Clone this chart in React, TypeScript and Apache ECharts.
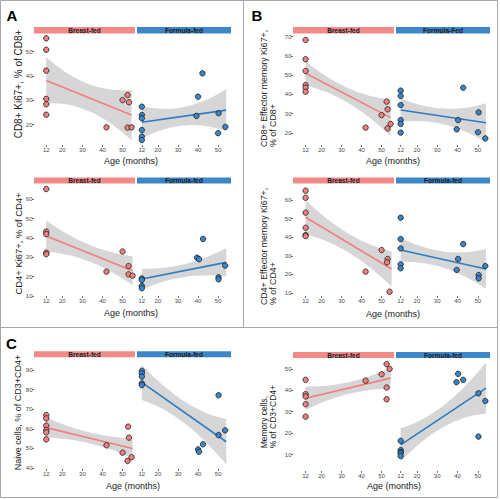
import React, { useEffect, useRef } from 'react';
import * as echarts from 'echarts';

// ---------------- DATA ----------------
const X_TICKS = [12, 20, 30, 40, 50];

// Panel A, top: CD8+ Ki67+
const a1BfAge = [12, 12, 12, 12, 12, 12, 42, 50, 52.5, 53.2, 52.5, 54.5];
const a1BfVal = [55.5, 50.8, 42.2, 30.6, 28.4, 24.1, 18.9, 30.1, 32.2, 29.2, 18.8, 18.9];
const a1FfAge = [12, 12, 12, 12, 12, 12, 40, 39.2, 42.2, 50.2, 50, 53.6];
const a1FfVal = [27.4, 24.0, 22.6, 17.8, 15.1, 13.7, 31.5, 23.6, 41.1, 24.7, 16.5, 19.1];
const a1BfFitX = [12, 54.5];
const a1BfFitY = [38.2, 24.0];
const a1FfFitX = [12, 54];
const a1FfFitY = [21.0, 26.0];
const a1BfBandX = [12, 33, 54.5];
const a1BfBandLo = [28.7, 25.7, 13.6];
const a1BfBandHi = [47.7, 36.7, 34.4];
const a1FfBandX = [12, 33, 54];
const a1FfBandLo = [14.4, 19.7, 17.3];
const a1FfBandHi = [27.6, 27.3, 34.7];
const a1YTicks = [20, 30, 40, 50];

// Panel A, bottom: CD4+ Ki67+
const a2BfAge = [12, 12, 12, 12, 12, 42, 50, 53, 53, 55];
const a2BfVal = [65.3, 43.3, 42, 32.4, 31.6, 22.6, 33, 25.5, 21.2, 20.5];
const a2FfAge = [12, 12, 12, 12, 39.5, 40.5, 42.5, 50.2, 50.2, 53.5];
const a2FfVal = [19.1, 18.3, 15.2, 14.0, 29.8, 29.0, 39.5, 19.7, 18.6, 25.7];
const a2BfFitX = [12, 55];
const a2BfFitY = [41.0, 23.1];
const a2FfFitX = [12, 54];
const a2FfFitY = [18.8, 27.4];
const a2BfBandX = [12, 33.5, 55];
const a2BfBandLo = [33.0, 27.8, 15.6];
const a2BfBandHi = [49.0, 36.4, 30.6];
const a2FfBandX = [12, 33, 54];
const a2FfBandLo = [13.5, 19.8, 20.1];
const a2FfBandHi = [24.1, 26.4, 34.7];
const a2YTicks = [10, 20, 30, 40, 50, 60];

// Panel B, top: CD8+ Effector memory Ki67+
const b1BfAge = [12, 12, 12, 12, 12, 12, 42, 50, 52.5, 53, 53, 54.5];
const b1BfVal = [68.3, 58.3, 52.2, 44.9, 43.5, 41.4, 22.8, 29.3, 36.3, 32.3, 22.4, 24.7];
const b1FfAge = [12, 12, 12, 12, 12, 12, 39.6, 40.3, 42.8, 50.4, 50.1, 53.7];
const b1FfVal = [42.0, 39.2, 34.5, 26.7, 24.7, 20.2, 21.9, 26.7, 43.5, 30.7, 20.4, 17.2];
const b1BfFitX = [12, 54.5];
const b1BfFitY = [51.0, 28.0];
const b1FfFitX = [12, 54];
const b1FfFitY = [31.9, 25.3];
const b1BfBandX = [12, 33.25, 54.5];
const b1BfBandLo = [44.7, 35.7, 18.5];
const b1BfBandHi = [57.3, 43.3, 37.5];
const b1FfBandX = [12, 33, 54];
const b1FfBandLo = [25.7, 24.6, 15.2];
const b1FfBandHi = [38.1, 32.6, 35.4];
const b1YTicks = [20, 30, 40, 50, 60, 70];

// Panel B, bottom: CD4+ Effector memory Ki67+
const b2BfAge = [12, 12, 12, 12, 12, 12, 42, 50, 53, 52.7, 54];
const b2BfVal = [65.0, 61.2, 53.2, 45.1, 41.2, 40.6, 21.5, 33.1, 28.3, 26.5, 10.7];
const b2FfAge = [12, 12, 12, 12, 12, 39.6, 40.3, 42.8, 50.4, 50.4, 53.7];
const b2FfVal = [50.5, 39.0, 34.0, 25.4, 23.3, 22.4, 28.3, 36.3, 19.7, 17.9, 24.5];
const b2BfFitX = [12, 55];
const b2BfFitY = [50.7, 22.9];
const b2FfFitX = [12, 54];
const b2FfFitY = [33.1, 22.9];
const b2BfBandX = [12, 33.5, 55];
const b2BfBandLo = [41.6, 31.8, 13.5];
const b2BfBandHi = [59.8, 41.8, 32.3];
const b2FfBandX = [12, 33, 54];
const b2FfBandLo = [26.8, 23.7, 12.3];
const b2FfBandHi = [39.4, 32.3, 33.5];
const b2YTicks = [10, 20, 30, 40, 50, 60];

// Panel C, left: Naive cells
const c1BfAge = [12, 12, 12, 12, 12, 12, 42, 50, 52.8, 53.2, 52.5, 54.5];
const c1BfVal = [67.0, 65.3, 61.6, 59.4, 58.2, 54.6, 51.6, 47.8, 61.1, 55.5, 43.6, 45.5];
const c1FfAge = [12, 12, 12, 12, 12, 40, 40.5, 42.5, 50.2, 50.2, 53.5];
const c1FfVal = [89.6, 88.3, 86.6, 83.2, 82.3, 49.5, 48.3, 52.1, 77.1, 56.8, 59.2];
const c1BfFitX = [12, 55];
const c1BfFitY = [60.6, 50.0];
const c1FfFitX = [12, 54];
const c1FfFitY = [83.7, 53.4];
const c1BfBandX = [12, 33.5, 55];
const c1BfBandLo = [55.5, 52.5, 45.0];
const c1BfBandHi = [65.7, 58.1, 55.0];
const c1FfBandX = [12, 33, 54];
const c1FfBandLo = [74.7, 63.1, 41.9];
const c1FfBandHi = [92.7, 74.1, 64.9];
const c1YTicks = [40, 50, 60, 70, 80, 90];

// Panel C, right: Memory cells
const c2BfAge = [12, 12, 12, 12, 12, 42, 50, 52.5, 54, 52.5, 52.5];
const c2BfVal = [44.9, 38.2, 37.1, 33.5, 27.7, 44.5, 47.5, 52.2, 50.0, 41.3, 35.8];
const c2FfAge = [12, 12, 12, 12, 12, 39.5, 40.3, 42.8, 50.3, 50.3, 53.7];
const c2FfVal = [16.4, 12.1, 11.2, 10.6, 9.3, 43.8, 47.7, 44.9, 38.6, 18.4, 35.0];
const c2BfFitX = [12, 54.5];
const c2BfFitY = [36.3, 45.7];
const c2FfFitX = [12, 54];
const c2FfFitY = [14.5, 41.0];
const c2BfBandX = [12, 33.25, 54.5];
const c2BfBandLo = [30.8, 38.2, 40.8];
const c2BfBandHi = [41.8, 43.8, 50.6];
const c2FfBandX = [12, 33, 54];
const c2FfBandLo = [6.7, 22.8, 29.0];
const c2FfBandHi = [22.3, 32.8, 53.0];
const c2YTicks = [10, 20, 30, 40, 50];

// ---------------- STYLE / LAYOUT ----------------
const PINK = '#F08080';
const BLUE = '#3A86C8';
const PINK_LINE = '#F27E7E';
const BLUE_LINE = '#2C7CC4';
const BAND = 'rgba(153,153,153,0.4)';
const FONT = '"Liberation Sans", Arial, Helvetica, sans-serif';

type Facet = {
  age: number[]; val: number[];
  fitX: number[]; fitY: number[];
  bandX: number[]; bandLo: number[]; bandHi: number[];
};
const fac = (age: number[], val: number[], fitX: number[], fitY: number[], bandX: number[], bandLo: number[], bandHi: number[]): Facet =>
  ({ age, val, fitX, fitY, bandX, bandLo, bandHi });

const COLS = [
  [{ left: 34, width: 101, min: 5.9, max: 56.2 }, { left: 137, width: 94, min: 9.6, max: 56.4 }],
  [{ left: 293, width: 101, min: 5.7, max: 56.2 }, { left: 396, width: 94, min: 9.7, max: 56.0 }],
];

const panels = [
  { col: 0, top: 34, bottom: 145, yMin: 11.65, yMax: 57.27, yTicks: a1YTicks, stripY: 27, stripH: 6.5,
    strips: ['Breast-fed', 'Formula-fed'],
    bf: fac(a1BfAge, a1BfVal, a1BfFitX, a1BfFitY, a1BfBandX, a1BfBandLo, a1BfBandHi),
    ff: fac(a1FfAge, a1FfVal, a1FfFitX, a1FfFitY, a1FfBandX, a1FfBandLo, a1FfBandHi) },
  { col: 0, top: 184, bottom: 296, yMin: 10.0, yMax: 67.9, yTicks: a2YTicks, stripY: 177.5, stripH: 6,
    strips: ['Breast-fed', 'Formula-fed'],
    bf: fac(a2BfAge, a2BfVal, a2BfFitX, a2BfFitY, a2BfBandX, a2BfBandLo, a2BfBandHi),
    ff: fac(a2FfAge, a2FfVal, a2FfFitX, a2FfFitY, a2FfBandX, a2FfBandLo, a2FfBandHi) },
  { col: 1, top: 34, bottom: 145, yMin: 13.77, yMax: 71.4, yTicks: b1YTicks, stripY: 27, stripH: 6.5,
    strips: ['Breast-fed', 'Formula-Fed'],
    bf: fac(b1BfAge, b1BfVal, b1BfFitX, b1BfFitY, b1BfBandX, b1BfBandLo, b1BfBandHi),
    ff: fac(b1FfAge, b1FfVal, b1FfFitX, b1FfFitY, b1FfBandX, b1FfBandLo, b1FfBandHi) },
  { col: 1, top: 184, bottom: 296, yMin: 8.4, yMax: 68.6, yTicks: b2YTicks, stripY: 177.5, stripH: 6,
    strips: ['Breast-fed', 'Formula-fed'],
    bf: fac(b2BfAge, b2BfVal, b2BfFitX, b2BfFitY, b2BfBandX, b2BfBandLo, b2BfBandHi),
    ff: fac(b2FfAge, b2FfVal, b2FfFitX, b2FfFitY, b2FfBandX, b2FfBandLo, b2FfBandHi) },
  { col: 0, top: 357, bottom: 469, yMin: 39.5, yMax: 96.6, yTicks: c1YTicks, stripY: 351.3, stripH: 6,
    strips: ['Breast-fed', 'Formula-fed'],
    bf: fac(c1BfAge, c1BfVal, c1BfFitX, c1BfFitY, c1BfBandX, c1BfBandLo, c1BfBandHi),
    ff: fac(c1FfAge, c1FfVal, c1FfFitX, c1FfFitY, c1FfBandX, c1FfBandLo, c1FfBandHi) },
  { col: 1, top: 358, bottom: 471, yMin: 2.3, yMax: 55.1, yTicks: c2YTicks, stripY: 352, stripH: 6,
    strips: ['Breast-fed', 'Formula-fed'],
    bf: fac(c2BfAge, c2BfVal, c2BfFitX, c2BfFitY, c2BfBandX, c2BfBandLo, c2BfBandHi),
    ff: fac(c2FfAge, c2FfVal, c2FfFitX, c2FfFitY, c2FfBandX, c2FfBandLo, c2FfBandHi) },
];

// y titles: lines, x of each line, anchor y, alignment, font size
const yTitles = [
  { lines: ['CD8+ Ki67+, % of CD8+'], xs: [18], y: 84, align: 'center', size: 10 },
  { lines: ['CD4+ Ki67+, % of CD4+'], xs: [18], y: 243.5, align: 'center', size: 9.4 },
  { lines: ['CD8+ Effector memory Ki67+,', '% of CD8+'], xs: [263.5, 273], y: 147, align: 'left', size: 8.8 },
  { lines: ['CD4+ Effector memory Ki67+,', '% of CD4+'], xs: [263.5, 273], y: 305, align: 'left', size: 8.8 },
  { lines: ['Naive cells, % of CD3+CD4+'], xs: [17.5], y: 412.5, align: 'center', size: 9 },
  { lines: ['Memory cells,', '% of CD3+CD4+'], xs: [264, 273.3], y: 448.3, align: 'left', size: 8.5 },
];
const xTitles = [
  { x: 131, y: 161 }, { x: 131, y: 313 }, { x: 393, y: 161 }, { x: 393, y: 314 },
  { x: 133, y: 486 }, { x: 394, y: 486 },
];

// confidence band shape
const CiBand = echarts.graphic.extendShape({
  type: 'ciBand',
  shape: { up: [] as number[][], lo: [] as number[][] },
  buildPath(ctx: any, shape: any) {
    const u = shape.up, l = shape.lo;
    if (!u || u.length < 3) return;
    ctx.moveTo(u[0][0], u[0][1]);
    ctx.quadraticCurveTo(2 * u[1][0] - (u[0][0] + u[2][0]) / 2, 2 * u[1][1] - (u[0][1] + u[2][1]) / 2, u[2][0], u[2][1]);
    ctx.lineTo(l[2][0], l[2][1]);
    ctx.quadraticCurveTo(2 * l[1][0] - (l[0][0] + l[2][0]) / 2, 2 * l[1][1] - (l[0][1] + l[2][1]) / 2, l[0][0], l[0][1]);
    ctx.closePath();
  },
});
echarts.graphic.registerShape('ciBand', CiBand);

function textEl(x: number, y: number, text: string, size: number, opts: any = {}) {
  const align = opts.align || 'center';
  const valign = opts.valign || 'middle';
  return {
    type: 'text', x, y, rotation: opts.rotation || 0, silent: true, z: 10,
    style: {
      text, fontSize: size, fontFamily: FONT, fontWeight: opts.weight || 'normal',
      fill: opts.color || '#1a1a1a',
      align, verticalAlign: valign, textAlign: align, textVerticalAlign: valign,
    },
  };
}

function buildOption() {
  const grid: any[] = [], xAxis: any[] = [], yAxis: any[] = [], series: any[] = [], graphic: any[] = [];
  const tickLabel = { fontSize: 6, color: '#4a4a4a', fontFamily: FONT };
  const tickLine = { color: '#333333', width: 0.7 };

  panels.forEach((p, pi) => {
    const cols = COLS[p.col];
    [p.bf, p.ff].forEach((f, fi) => {
      const k = pi * 2 + fi;
      const c = cols[fi];
      const fill = fi === 0 ? PINK : BLUE;
      const lineCol = fi === 0 ? PINK_LINE : BLUE_LINE;
      grid.push({ left: c.left, top: p.top, width: c.width, height: p.bottom - p.top, containLabel: false });
      xAxis.push({
        type: 'value', gridIndex: k, min: c.min, max: c.max,
        axisLine: { show: false }, splitLine: { show: false },
        axisTick: { show: true, length: 2, lineStyle: tickLine, customValues: X_TICKS },
        axisLabel: { ...tickLabel, margin: 2, customValues: X_TICKS },
      });
      yAxis.push({
        type: 'value', gridIndex: k, min: p.yMin, max: p.yMax, show: fi === 0,
        axisLine: { show: false }, splitLine: { show: false },
        axisTick: { show: true, length: 2, lineStyle: tickLine, customValues: p.yTicks },
        axisLabel: { ...tickLabel, margin: 1.5, customValues: p.yTicks },
      });
      series.push({
        type: 'custom', xAxisIndex: k, yAxisIndex: k, silent: true, z: 1, clip: false,
        data: [[f.bandX[0], f.bandLo[0]]],
        renderItem: (_params: any, api: any) => {
          const up = f.bandX.map((x, i) => api.coord([x, f.bandHi[i]]));
          const lo = f.bandX.map((x, i) => api.coord([x, f.bandLo[i]]));
          return { type: 'ciBand', shape: { up, lo }, style: { fill: BAND } };
        },
      });
      series.push({
        type: 'line', xAxisIndex: k, yAxisIndex: k, silent: true, z: 2,
        data: f.fitX.map((x, i) => [x, f.fitY[i]]),
        showSymbol: false, symbol: 'none',
        lineStyle: { color: lineCol, width: 1.6 },
      });
      series.push({
        type: 'scatter', xAxisIndex: k, yAxisIndex: k, silent: true, z: 3,
        data: f.age.map((a, i) => [a, f.val[i]]),
        symbolSize: 5.4, itemStyle: { color: fill, borderColor: '#1a1a1a', borderWidth: 0.8, opacity: 1 },
      });
      // strip
      graphic.push({
        type: 'rect', silent: true, z: 5,
        shape: { x: c.left, y: p.stripY, width: c.width, height: p.stripH },
        style: { fill: fi === 0 ? '#F28A8A' : '#3D86C9' },
      });
      graphic.push(textEl(c.left + c.width / 2, p.stripY + p.stripH / 2 + 0.3, p.strips[fi], 6.6,
        { weight: 'bold', color: '#1a1a1a' }));
    });
  });

  yTitles.forEach((t) => {
    t.lines.forEach((ln, li) => {
      graphic.push(textEl(t.xs[li], t.y, ln, t.size, { rotation: Math.PI / 2, align: t.align }));
    });
  });
  xTitles.forEach((t) => graphic.push(textEl(t.x, t.y, 'Age (months)', 9)));

  graphic.push(textEl(12, 15, 'A', 15, { weight: 'bold', color: '#000' }));
  graphic.push(textEl(257, 15, 'B', 15, { weight: 'bold', color: '#000' }));
  graphic.push(textEl(11.5, 343.5, 'C', 15, { weight: 'bold', color: '#000' }));

  // frame
  const frameStyle = { stroke: '#a6a6a6', lineWidth: 1, fill: 'none' };
  graphic.push({ type: 'rect', silent: true, z: 0, shape: { x: 0.5, y: 0.5, width: 497, height: 497 }, style: frameStyle });
  graphic.push({ type: 'line', silent: true, z: 0, shape: { x1: 243.5, y1: 0.5, x2: 243.5, y2: 327.5 }, style: frameStyle });
  graphic.push({ type: 'line', silent: true, z: 0, shape: { x1: 0.5, y1: 327.5, x2: 497.5, y2: 327.5 }, style: frameStyle });

  return {
    animation: false,
    backgroundColor: '#ffffff',
    textStyle: { fontFamily: FONT },
    grid, xAxis, yAxis, series, graphic,
  };
}

export default function App() {
  const ref = useRef<HTMLDivElement>(null);
  useEffect(() => {
    if (!ref.current) return;
    const chart = echarts.init(ref.current, undefined, { renderer: 'svg' });
    chart.setOption(buildOption() as any);
    return () => chart.dispose();
  }, []);
  return (
    <div
      ref={ref}
      style={{ position: 'fixed', left: 0, top: 0, width: 500, height: 499, background: '#fff' }}
    />
  );
}
